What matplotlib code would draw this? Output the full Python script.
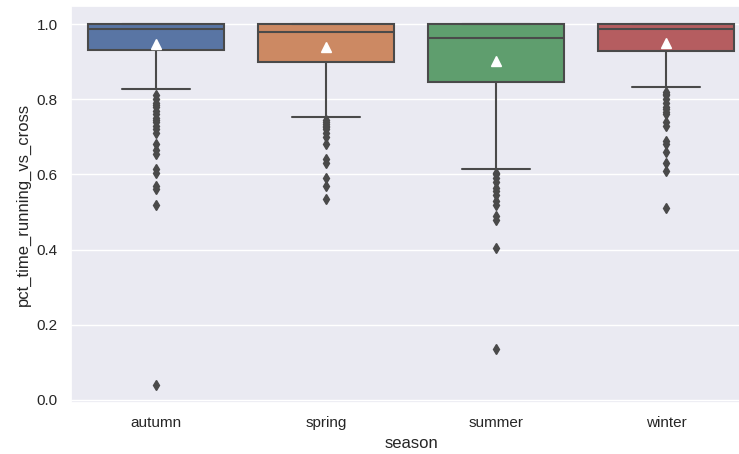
import matplotlib
matplotlib.use("Agg")
import matplotlib.pyplot as plt
import seaborn as sns

sns.set_theme(style="darkgrid")
plt.rcParams['font.family'] = ['Liberation Sans', 'DejaVu Sans']

seasons = ["autumn", "spring", "summer", "winter"]
q1 = [0.930, 0.898, 0.845, 0.927]
medians = [0.987, 0.980, 0.962, 0.988]
q3 = [1.0, 1.0, 1.0, 1.0]
whisker_low = [0.826, 0.752, 0.615, 0.832]
whisker_high = [1.0, 1.0, 1.0, 1.0]
means = [0.946, 0.940, 0.903, 0.949]
fliers_autumn = [0.81, 0.80, 0.79, 0.785, 0.78, 0.77, 0.76, 0.75, 0.745, 0.74, 0.73,
                 0.72, 0.71, 0.68, 0.665, 0.655, 0.615, 0.605, 0.57, 0.56, 0.52, 0.04]
fliers_spring = [0.745, 0.74, 0.735, 0.73, 0.725, 0.72, 0.71, 0.70, 0.68, 0.64, 0.63,
                 0.59, 0.57, 0.535]
fliers_summer = [0.605, 0.60, 0.59, 0.58, 0.565, 0.555, 0.545, 0.53, 0.52, 0.49, 0.48,
                 0.405, 0.135]
fliers_winter = [0.82, 0.815, 0.81, 0.80, 0.79, 0.78, 0.775, 0.765, 0.76, 0.74, 0.73,
                 0.69, 0.68, 0.66, 0.63, 0.61, 0.51]
fliers = [fliers_autumn, fliers_spring, fliers_summer, fliers_winter]

palette = sns.color_palette("deep", 4)
colors = [sns.desaturate(c, 0.75) for c in palette]
gray = "#4a4a4a"

stats = []
for i, s in enumerate(seasons):
    stats.append(dict(label=s, q1=q1[i], med=medians[i], q3=q3[i],
                      whislo=whisker_low[i], whishi=whisker_high[i],
                      mean=means[i], fliers=fliers[i]))

fig = plt.figure(figsize=(7.39, 4.54), dpi=100)
ax = fig.add_axes([71 / 739, 1 - 403 / 454, 680 / 739, 397 / 454])

bp = ax.bxp(stats, positions=range(4), widths=0.8, patch_artist=True,
            showmeans=True, manage_ticks=False,
            boxprops=dict(edgecolor=gray, linewidth=1.5),
            medianprops=dict(color=gray, linewidth=1.5),
            whiskerprops=dict(color=gray, linewidth=1.5),
            capprops=dict(color=gray, linewidth=1.5),
            capwidths=0.4,
            meanprops=dict(marker="^", markerfacecolor="white",
                           markeredgecolor="white", markersize=7.5),
            flierprops=dict(marker="d", markerfacecolor=gray,
                            markeredgecolor=gray, markersize=5))
for patch, c in zip(bp["boxes"], colors):
    patch.set_facecolor(c)

ax.set_xlim(-0.5, 3.5)
ax.set_ylim(-0.008, 1.048)
ax.set_xticks(range(4))
ax.set_xticklabels(seasons)
ax.set_yticks([0.0, 0.2, 0.4, 0.6, 0.8, 1.0])
ax.xaxis.grid(False)
ax.tick_params(labelsize=11)
ax.set_xlabel("season", fontsize=12)
ax.set_ylabel("pct_time_running_vs_cross", fontsize=12)

fig.savefig("out.png", dpi=100)
